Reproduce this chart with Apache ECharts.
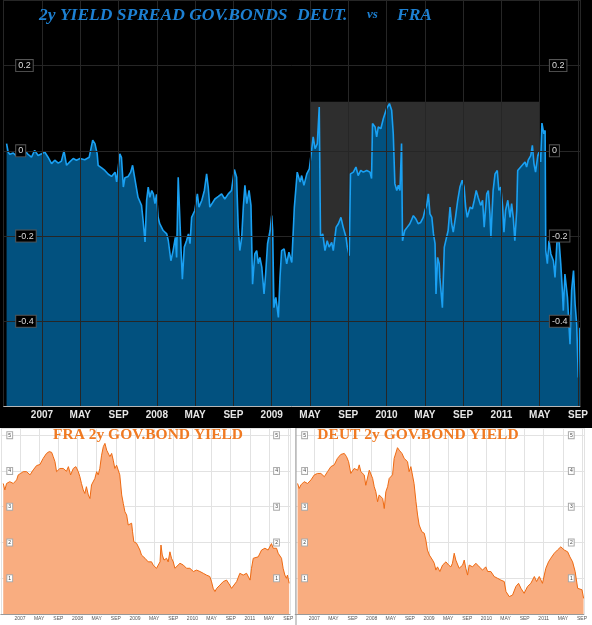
<!DOCTYPE html>
<html>
<head>
<meta charset="utf-8">
<script src="https://cdn.jsdelivr.net/npm/echarts@6.0.0/dist/echarts.min.js"></script>
<style>
  html, body { margin: 0; padding: 0; background: #000; }
  #chart { width: 592px; height: 625px; }
</style>
</head>
<body>
<div id="chart"></div>
<script>
// 2y spread DEUT vs FRA (percentage points)
const spreadDates = [
  '2006-09-10','2006-09-15','2006-09-20','2006-10-01','2006-10-09','2006-10-16','2006-11-07','2006-11-17','2006-11-28','2006-12-08',
  '2006-12-19','2006-12-30','2007-01-10','2007-01-20','2007-02-01','2007-02-11','2007-02-22','2007-03-02','2007-03-10','2007-03-18',
  '2007-03-28','2007-04-09','2007-04-19','2007-04-30','2007-05-15','2007-05-29','2007-06-10','2007-06-17','2007-06-24','2007-06-27',
  '2007-07-08','2007-07-18','2007-07-29','2007-08-09','2007-08-20','2007-08-25','2007-09-05','2007-09-10','2007-09-16','2007-09-21',
  '2007-10-01','2007-10-09','2007-10-15','2007-10-22','2007-11-02','2007-11-13','2007-11-18','2007-11-24','2007-11-29','2007-12-04',
  '2007-12-09','2007-12-15','2007-12-20','2007-12-25','2007-12-30','2008-01-05','2008-01-10','2008-01-21','2008-02-02','2008-02-07',
  '2008-02-15','2008-02-22','2008-02-29','2008-03-03','2008-03-08','2008-03-14','2008-03-17','2008-03-21','2008-03-27','2008-04-04',
  '2008-04-10','2008-04-15','2008-04-20','2008-04-30','2008-05-08','2008-05-13','2008-05-22','2008-05-30','2008-06-07','2008-06-12',
  '2008-06-17','2008-06-23','2008-07-03','2008-07-14','2008-07-24','2008-08-04','2008-08-15','2008-08-25','2008-09-04','2008-09-11',
  '2008-09-16','2008-09-21','2008-09-27','2008-10-02','2008-10-07','2008-10-13','2008-10-20','2008-10-26','2008-11-01','2008-11-08',
  '2008-11-14','2008-11-19','2008-11-24','2008-11-30','2008-12-07','2008-12-12','2008-12-18','2008-12-26','2009-01-01','2009-01-04',
  '2009-01-08','2009-01-14','2009-01-22','2009-01-27','2009-02-02','2009-02-10','2009-02-18','2009-02-25','2009-03-04','2009-03-12',
  '2009-03-21','2009-03-30','2009-04-05','2009-04-12','2009-04-21','2009-04-29','2009-05-06','2009-05-11','2009-05-17','2009-05-24',
  '2009-05-30','2009-06-04','2009-06-11','2009-06-18','2009-06-25','2009-07-01','2009-07-09','2009-07-14','2009-07-23','2009-07-30',
  '2009-08-08','2009-08-15','2009-08-24','2009-08-28','2009-09-04','2009-09-08','2009-09-17','2009-09-25','2009-10-02','2009-10-10',
  '2009-10-18','2009-10-29','2009-11-09','2009-11-14','2009-11-17','2009-11-25','2009-11-30','2009-12-05','2009-12-13','2009-12-21',
  '2010-01-01','2010-01-10','2010-01-17','2010-01-22','2010-01-27','2010-02-03','2010-02-08','2010-02-13','2010-02-18','2010-02-21',
  '2010-02-28','2010-03-06','2010-03-14','2010-03-25','2010-04-03','2010-04-10','2010-04-18','2010-04-26','2010-05-01','2010-05-07',
  '2010-05-12','2010-05-17','2010-05-23','2010-05-28','2010-06-03','2010-06-06','2010-06-11','2010-06-16','2010-06-18','2010-06-26',
  '2010-07-02','2010-07-09','2010-07-14','2010-07-20','2010-07-25','2010-07-30','2010-08-07','2010-08-14','2010-08-21','2010-08-28',
  '2010-09-04','2010-09-09','2010-09-14','2010-09-23','2010-09-30','2010-10-06','2010-10-12','2010-10-18','2010-10-26','2010-11-02',
  '2010-11-07','2010-11-15','2010-11-20','2010-11-25','2010-11-28','2010-12-05','2010-12-11','2010-12-18','2010-12-23','2010-12-29',
  '2011-01-05','2011-01-09','2011-01-14','2011-01-21','2011-01-28','2011-02-03','2011-02-08','2011-02-13','2011-02-19','2011-02-22',
  '2011-02-28','2011-03-06','2011-03-15','2011-03-20','2011-03-25','2011-04-03','2011-04-08','2011-04-13','2011-04-18','2011-04-25',
  '2011-04-29','2011-05-04','2011-05-08','2011-05-14','2011-05-18','2011-05-20','2011-05-25','2011-05-30','2011-06-06','2011-06-14',
  '2011-06-19','2011-06-25','2011-07-02','2011-07-07','2011-07-12','2011-07-15','2011-07-20','2011-07-28','2011-08-06','2011-08-11',
  '2011-08-17','2011-08-22','2011-08-27','2011-09-02','2011-09-07'
];
const spreadValues = [
  0.017,-0.003,-0.008,-0.005,-0.011,-0.003,0.001,-0.008,-0.015,0.001,
  -0.011,-0.007,-0.003,-0.015,-0.030,-0.022,-0.029,-0.024,0.000,-0.034,
  -0.026,-0.018,-0.022,-0.018,-0.021,-0.015,0.025,0.017,-0.007,-0.034,
  -0.040,-0.046,-0.055,-0.060,-0.050,-0.073,-0.007,-0.015,-0.085,-0.063,
  -0.060,-0.050,-0.034,-0.065,-0.109,-0.128,-0.164,-0.214,-0.116,-0.085,
  -0.109,-0.093,-0.101,-0.124,-0.102,-0.156,-0.171,-0.187,-0.195,-0.211,
  -0.258,-0.234,-0.203,-0.250,-0.062,-0.065,-0.234,-0.301,-0.226,-0.211,
  -0.195,-0.218,-0.156,-0.140,-0.101,-0.132,-0.116,-0.093,-0.054,-0.085,
  -0.132,-0.132,-0.113,-0.107,-0.101,-0.113,-0.101,-0.093,-0.044,-0.062,
  -0.179,-0.234,-0.203,-0.132,-0.081,-0.124,-0.093,-0.128,-0.313,-0.242,
  -0.234,-0.265,-0.250,-0.273,-0.336,-0.289,-0.218,-0.187,-0.152,-0.187,
  -0.368,-0.344,-0.391,-0.297,-0.234,-0.230,-0.265,-0.238,-0.262,-0.132,
  -0.050,-0.073,-0.058,-0.081,-0.054,-0.042,0.001,0.033,0.005,0.017,
  0.103,-0.203,-0.195,-0.234,-0.211,-0.226,-0.215,-0.234,-0.179,-0.171,
  -0.156,-0.179,-0.203,-0.226,-0.246,-0.054,-0.050,-0.038,-0.058,-0.046,
  -0.050,-0.046,-0.050,-0.065,0.064,0.056,0.033,0.056,0.052,0.076,
  0.099,0.111,0.095,0.040,-0.077,-0.093,-0.081,-0.093,0.017,-0.211,
  -0.187,-0.179,-0.171,-0.152,-0.160,-0.171,-0.168,-0.156,-0.140,-0.128,
  -0.101,-0.148,-0.156,-0.195,-0.218,-0.336,-0.250,-0.265,-0.297,-0.368,
  -0.226,-0.203,-0.187,-0.132,-0.171,-0.191,-0.156,-0.116,-0.085,-0.069,
  -0.085,-0.132,-0.156,-0.132,-0.136,-0.116,-0.093,-0.109,-0.128,-0.116,
  -0.179,-0.101,-0.093,-0.148,-0.203,-0.093,-0.054,-0.046,-0.093,-0.085,
  -0.132,-0.191,-0.140,-0.116,-0.156,-0.124,-0.156,-0.211,-0.140,-0.046,
  -0.042,-0.034,-0.026,-0.038,-0.022,-0.011,0.013,-0.030,-0.050,-0.011,
  -0.003,-0.026,0.065,0.040,0.048,-0.234,-0.265,-0.211,-0.242,-0.258,
  -0.297,-0.214,-0.214,-0.265,-0.328,-0.375,-0.289,-0.344,-0.454,-0.328,
  -0.281,-0.360,-0.407,-0.532,-0.415
];
// shaded period on the spread chart
const highlightPeriod = ['2009-05-03', '2011-04-29'];
const highlightTop = 0.115;

// FRA 2y yield (%)
const fraDates = [
  '2006-09-16','2006-09-26','2006-10-07','2006-10-27','2006-11-19','2006-12-10','2006-12-20','2007-01-05','2007-01-21','2007-02-12',
  '2007-03-04','2007-03-24','2007-04-15','2007-05-06','2007-05-26','2007-06-17','2007-07-04','2007-07-19','2007-07-29','2007-08-10',
  '2007-08-20','2007-09-01','2007-09-11','2007-09-21','2007-10-02','2007-10-12','2007-10-22','2007-11-04','2007-11-18','2007-12-05',
  '2007-12-21','2008-01-06','2008-01-16','2008-01-26','2008-02-07','2008-02-17','2008-02-27','2008-03-09','2008-03-19','2008-03-29',
  '2008-04-10','2008-04-20','2008-05-01','2008-05-11','2008-05-21','2008-06-02','2008-06-13','2008-06-23','2008-07-04','2008-07-14',
  '2008-07-24','2008-08-05','2008-08-15','2008-08-25','2008-09-06','2008-09-16','2008-09-26','2008-10-08','2008-10-18','2008-10-28',
  '2008-11-09','2008-11-19','2008-11-29','2008-12-10','2008-12-16','2008-12-24','2009-01-11','2009-01-21','2009-02-02','2009-02-12',
  '2009-02-22','2009-03-04','2009-03-14','2009-03-24','2009-04-05','2009-04-15','2009-04-25','2009-05-06','2009-05-16','2009-05-27',
  '2009-06-08','2009-06-14','2009-06-22','2009-07-03','2009-07-19','2009-07-29','2009-08-10','2009-08-20','2009-09-01','2009-09-11',
  '2009-09-21','2009-10-13','2009-10-23','2009-11-04','2009-11-24','2009-12-15','2010-01-07','2010-01-27','2010-02-18','2010-03-09',
  '2010-03-29','2010-04-20','2010-05-01','2010-05-11','2010-05-22','2010-06-03','2010-06-23','2010-07-14','2010-08-05','2010-08-25',
  '2010-09-06','2010-09-16','2010-10-08','2010-10-28','2010-11-19','2010-12-10','2011-01-02','2011-01-11','2011-01-22','2011-02-03',
  '2011-02-23','2011-03-14','2011-04-05','2011-04-25','2011-05-16','2011-05-27','2011-06-18','2011-06-28','2011-07-09','2011-07-19',
  '2011-07-29','2011-08-10','2011-08-20','2011-08-26','2011-09-07'
];
const fraValues = [
  3.65,3.47,3.65,3.70,3.65,3.75,3.89,3.93,3.98,3.98,
  3.89,4.03,4.15,4.18,4.35,4.49,4.54,4.52,4.40,4.26,
  3.98,3.93,4.07,4.12,4.07,4.12,3.99,4.12,3.89,4.07,
  4.12,3.98,3.84,3.65,3.47,3.37,3.56,3.33,3.23,3.61,
  3.56,3.79,3.98,3.89,4.07,4.44,4.68,4.77,4.58,4.63,
  4.40,4.49,4.30,4.07,4.16,4.12,3.89,3.33,3.09,2.86,
  2.77,2.49,2.44,2.54,2.30,2.02,1.98,1.98,1.79,1.65,
  1.60,1.56,1.51,1.46,1.51,1.46,1.37,1.33,1.28,1.33,
  1.46,1.93,1.65,1.51,1.56,1.46,1.74,1.56,1.46,1.28,
  1.33,1.42,1.46,1.37,1.28,1.28,1.19,1.23,1.19,1.14,
  1.09,1.05,0.90,0.72,0.63,0.72,0.81,0.91,0.95,0.81,
  0.72,0.77,0.91,1.14,1.09,1.14,0.95,1.28,1.56,1.60,
  1.60,1.79,1.84,1.79,1.97,1.84,1.84,1.70,1.65,1.56,
  1.28,1.09,1.00,1.09,0.86
];

// DEUT 2y yield (%)
const deutDates = [
  '2006-09-16','2006-09-26','2006-10-07','2006-10-27','2006-11-19','2006-12-10','2007-01-01','2007-01-21','2007-02-12','2007-03-04',
  '2007-03-24','2007-04-15','2007-05-06','2007-05-26','2007-06-17','2007-07-09','2007-07-23','2007-08-06','2007-08-20','2007-09-11',
  '2007-10-03','2007-10-13','2007-10-23','2007-11-14','2007-11-24','2007-12-16','2008-01-07','2008-01-17','2008-01-27','2008-02-08',
  '2008-02-18','2008-02-28','2008-03-10','2008-03-20','2008-03-30','2008-04-11','2008-04-21','2008-05-12','2008-05-22','2008-06-13',
  '2008-06-24','2008-07-11','2008-07-25','2008-08-16','2008-08-26','2008-09-07','2008-09-17','2008-09-27','2008-10-09','2008-10-19',
  '2008-10-29','2008-11-16','2008-12-01','2008-12-11','2008-12-21','2009-01-03','2009-01-13','2009-01-23','2009-02-04','2009-02-14',
  '2009-02-24','2009-03-09','2009-03-26','2009-04-17','2009-05-04','2009-05-18','2009-05-28','2009-06-09','2009-06-19','2009-07-10',
  '2009-08-02','2009-08-12','2009-08-22','2009-09-03','2009-09-13','2009-10-04','2009-10-25','2009-11-16','2009-12-07','2009-12-27',
  '2010-01-09','2010-01-29','2010-02-20','2010-03-11','2010-04-02','2010-04-23','2010-05-04','2010-05-24','2010-06-15','2010-07-06',
  '2010-07-23','2010-08-08','2010-08-28','2010-09-19','2010-10-10','2010-11-02','2010-11-16','2010-12-03','2010-12-23','2011-01-04',
  '2011-01-14','2011-02-01','2011-02-15','2011-03-07','2011-03-27','2011-04-18','2011-05-10','2011-06-01','2011-06-15','2011-07-02',
  '2011-07-18','2011-08-04','2011-08-14','2011-09-01','2011-09-11'
];
const deutValues = [
  3.65,3.51,3.61,3.70,3.65,3.75,3.89,3.93,3.93,3.84,
  3.98,4.12,4.17,4.35,4.46,4.49,4.40,4.26,3.93,4.07,
  4.02,4.17,3.98,3.89,3.60,4.02,3.79,3.56,3.42,3.14,
  3.33,3.28,3.23,2.95,3.42,3.56,3.79,3.89,4.35,4.65,
  4.58,4.49,4.35,4.26,3.98,4.12,4.07,3.65,3.14,2.77,
  2.49,2.30,2.26,2.07,1.79,1.65,1.60,1.51,1.42,1.23,
  1.32,1.19,1.37,1.46,1.37,1.32,1.42,1.70,1.51,1.28,
  1.37,1.51,1.28,1.09,1.37,1.32,1.42,1.32,1.23,1.32,
  1.19,1.19,1.05,1.00,0.95,0.91,0.63,0.49,0.53,0.77,
  0.86,0.72,0.58,0.77,0.86,1.05,0.91,1.05,0.86,0.91,
  1.28,1.46,1.56,1.70,1.79,1.88,1.79,1.74,1.60,1.46,
  1.19,0.72,0.77,0.68,0.44
];

const spreadTicks = [0.2, 0, -0.2, -0.4];
const yieldTicks = [1, 2, 3, 4, 5];
const monthTickNames = { 4: 'MAY', 8: 'SEP' };   // january shows the year

// months since Jan 2007
function toMonth(d) {
  const p = d.split('-').map(Number);
  return (p[0] - 2007) * 12 + (p[1] - 1) + (p[2] - 1) / 30;
}
function zip(dates, values) {
  return dates.map((d, i) => [toMonth(d), values[i]]);
}
function monthLabel(v) {
  if (v < 0 || Math.abs(v - Math.round(v)) > 0.01) return '';
  const m = Math.round(v);
  const r = m % 12;
  if (r === 0) return String(2007 + m / 12);
  return monthTickNames[r] || '';
}

const chart = echarts.init(document.getElementById('chart'));

const topAxisLabel = {
  inside: true,
  showMinLabel: false,
  showMaxLabel: false,
  color: '#dcdcdc',
  fontSize: 9,
  fontFamily: 'Arial, "Liberation Sans", sans-serif',
  backgroundColor: '#000',
  borderColor: '#555',
  borderWidth: 1,
  padding: [1, 2, 1, 2],
  formatter: (v) => {
    const r = Math.round(v * 10) / 10;
    if (!spreadTicks.includes(r)) return '';
    return r === 0 ? '0' : r.toFixed(1);
  }
};
const yieldAxisLabel = {
  inside: true,
  showMinLabel: false,
  showMaxLabel: false,
  color: '#444',
  fontSize: 5,
  fontFamily: 'Arial, "Liberation Sans", sans-serif',
  backgroundColor: '#fff',
  borderColor: '#aaa',
  borderWidth: 1,
  padding: [1, 1, 0, 1],
  formatter: (v) => yieldTicks.includes(Math.round(v)) ? String(Math.round(v)) : ''
};
const yieldXAxis = (gi) => ({
  gridIndex: gi,
  type: 'value',
  min: -4,
  max: 56.4,
  interval: 4,
  axisLine: { show: true, onZero: false, lineStyle: { color: '#999', width: 1 } },
  axisTick: { show: false },
  axisLabel: {
    showMinLabel: false, showMaxLabel: false,
    color: '#555', fontSize: 5, margin: 2,
    fontFamily: 'Arial, "Liberation Sans", sans-serif',
    formatter: monthLabel
  },
  splitLine: { show: true, lineStyle: { color: '#e2e2e2', width: 1 } }
});
// grid lines sit under the area, the boxed labels above it
const yieldGridAxis = (gi) => ({
  gridIndex: gi, type: 'value', position: 'left',
  min: 0, max: 5.2, interval: 1, z: 0,
  axisLine: { show: false }, axisTick: { show: false }, axisLabel: { show: false },
  splitLine: { show: true, lineStyle: { color: '#e2e2e2', width: 1 } }
});
const yieldLabelAxis = (gi, pos, margin) => ({
  gridIndex: gi, type: 'value', position: pos,
  min: 0, max: 5.2, interval: 1, z: 3,
  axisLine: { show: false }, axisTick: { show: false },
  axisLabel: Object.assign({}, yieldAxisLabel, { margin: margin, align: 'left' }),
  splitLine: { show: false }
});
const yieldSeries = (name, xi, yi, data) => ({
  name: name,
  type: 'line',
  xAxisIndex: xi,
  yAxisIndex: yi,
  data: data,
  showSymbol: false,
  symbol: 'none',
  lineStyle: { color: '#ee6a12', width: 1 },
  areaStyle: { color: '#f9ad80', opacity: 1, origin: 'start' }
});

const titleFont = 'italic bold 17.5px "Liberation Serif", serif';
const option = {
  animation: false,
  backgroundColor: {
    type: 'linear', x: 0, y: 0, x2: 0, y2: 1,
    colorStops: [
      { offset: 0, color: '#000' },
      { offset: 0.6848, color: '#000' },
      { offset: 0.6848, color: '#fff' },
      { offset: 1, color: '#fff' }
    ]
  },
  graphic: [
    { type: 'text', x: 39, y: 15, z: 10, style: { text: '2y YIELD SPREAD GOV.BONDS', font: titleFont, fill: '#1d80d2', verticalAlign: 'middle' } },
    { type: 'text', x: 297, y: 15, z: 10, style: { text: 'DEUT.', font: titleFont, fill: '#1d80d2', verticalAlign: 'middle' } },
    { type: 'text', x: 367, y: 15, z: 10, style: { text: 'vs', font: 'italic bold 13px "Liberation Serif", serif', fill: '#1d80d2', verticalAlign: 'middle' } },
    { type: 'text', x: 397, y: 15, z: 10, style: { text: 'FRA', font: titleFont, fill: '#1d80d2', verticalAlign: 'middle' } },
    { type: 'text', x: 148, y: 435, z: 10, style: { text: 'FRA 2y GOV.BOND YIELD', font: 'bold 15.5px "Liberation Serif", serif', fill: '#f07a22', align: 'center', verticalAlign: 'middle' } },
    { type: 'text', x: 418, y: 435, z: 10, style: { text: 'DEUT 2y GOV.BOND YIELD', font: 'bold 15.5px "Liberation Serif", serif', fill: '#f07a22', align: 'center', verticalAlign: 'middle' } },
    { type: 'line', z: 10, shape: { x1: 296, y1: 428, x2: 296, y2: 625 }, style: { stroke: '#999', lineWidth: 1 } }
  ],
  grid: [
    { left: 3.7, right: 12.1, top: 0, height: 406.5 },
    { left: 0.84, top: 428, width: 289.3, height: 186.1 },
    { left: 295.2, top: 428, width: 288.7, height: 186.1 }
  ],
  xAxis: [
    {
      gridIndex: 0,
      type: 'value',
      min: -4,
      max: 56.2,
      interval: 4,
      z: 3,
      axisLine: { show: true, onZero: false, lineStyle: { color: '#b8b8b8', width: 1 } },
      axisTick: { show: false },
      axisLabel: {
        showMinLabel: false, showMaxLabel: false,
        color: '#e6e6e6', fontSize: 10, fontWeight: 'bold', margin: 4,
        fontFamily: '"Liberation Sans Narrow", "Arial Narrow", Arial, sans-serif',
        formatter: monthLabel
      },
      splitLine: { show: true, lineStyle: { color: '#262626', width: 1 } }
    },
    yieldXAxis(1),
    yieldXAxis(2)
  ],
  yAxis: [
    {
      gridIndex: 0, type: 'value', position: 'left',
      min: -0.6, max: 0.354, interval: 0.2, z: 3,
      axisLine: { show: false }, axisTick: { show: false },
      axisLabel: Object.assign({}, topAxisLabel, { margin: 12.5 }),
      splitLine: { show: true, lineStyle: { color: '#262626', width: 1 } }
    },
    {
      gridIndex: 0, type: 'value', position: 'right',
      min: -0.6, max: 0.354, interval: 0.2, z: 3,
      axisLine: { show: false }, axisTick: { show: false },
      axisLabel: Object.assign({}, topAxisLabel, { margin: 30, align: 'left' }),
      splitLine: { show: false }
    },
    yieldGridAxis(1),
    yieldLabelAxis(1, 'left', 6.5),
    yieldLabelAxis(1, 'right', 16),
    yieldGridAxis(2),
    yieldLabelAxis(2, 'left', 7),
    yieldLabelAxis(2, 'right', 15)
  ],
  series: [
    {
      name: 'shade',
      type: 'line',
      xAxisIndex: 0, yAxisIndex: 0,
      z: 1,
      data: [[toMonth(highlightPeriod[0]), highlightTop]],
      symbol: 'none',
      lineStyle: { width: 0 },
      markArea: {
        silent: true,
        itemStyle: { color: '#2e2e2e' },
        data: [[
          { xAxis: toMonth(highlightPeriod[0]), yAxis: highlightTop },
          { xAxis: toMonth(highlightPeriod[1]), yAxis: -0.6 }
        ]]
      }
    },
    {
      name: 'Spread',
      type: 'line',
      xAxisIndex: 0, yAxisIndex: 0,
      z: 2,
      data: zip(spreadDates, spreadValues),
      showSymbol: false,
      symbol: 'none',
      lineStyle: { color: '#1aa0f2', width: 1.6 },
      areaStyle: { color: '#02517f', opacity: 1, origin: 'start' }
    },
    yieldSeries('FRA', 1, 2, zip(fraDates, fraValues)),
    yieldSeries('DEUT', 2, 5, zip(deutDates, deutValues))
  ]
};

chart.setOption(option);
</script>
</body>
</html>
